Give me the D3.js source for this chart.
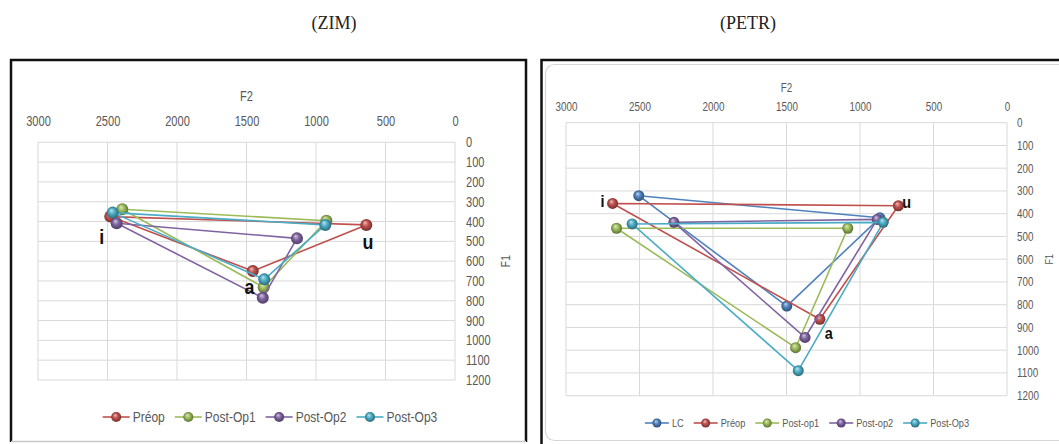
<!DOCTYPE html>
<html><head><meta charset="utf-8">
<script src="https://cdn.jsdelivr.net/npm/d3@7"></script>
<style>body{margin:0;background:#fff;overflow:hidden}</style>
</head><body><svg id="c" width="1059" height="444"></svg>
<script>
// ---------- DATA ----------
const vowels = ["i", "u", "a"];
const f2Ticks = [3000, 2500, 2000, 1500, 1000, 500, 0];
const f1Ticks = [0, 100, 200, 300, 400, 500, 600, 700, 800, 900, 1000, 1100, 1200];
const titles = ["(ZIM)", "(PETR)"];

const zimSeries = ["Préop", "Post-Op1", "Post-Op2", "Post-Op3"];
// F2 / F1 for [i, u, a]
const zimF2 = [[2480, 638, 1455], [2394, 925, 1376], [2434, 1137, 1383], [2463, 933, 1372]];
const zimF1 = [[375, 417, 650], [338, 396, 732], [409, 485, 785], [355, 417, 692]];
const zimLabelF2 = [2541, 626, 1479];
const zimLabelF1 = [477, 502, 730];

const petrSeries = ["LC", "Préop", "Post-op1", "Post-op2", "Post-Op3"];
const petrF2 = [[2505, 865, 1498], [2683, 739, 1273], [2656, 1083, 1438], [2266, 883, 1374], [2550, 842, 1420]];
const petrF1 = [[321, 418, 806], [355, 365, 864], [464, 464, 989], [438, 425, 944], [445, 438, 1090]];
const petrLabelF2 = [2752, 682, 1212];
const petrLabelF1 = [343, 347, 923];

// ---------- STYLE ----------
const COL = {blue: "#4f81bd", red: "#c0504d", green: "#9bbb59", purple: "#8064a2", cyan: "#4bacc6"};
const zimColors = [COL.red, COL.green, COL.purple, COL.cyan];
const petrColors = [COL.blue, COL.red, COL.green, COL.purple, COL.cyan];
const FONT = "'Liberation Sans',Arial,sans-serif";

const svg = d3.select("#c");
svg.append("rect").attr("width", 1059).attr("height", 444).attr("fill", "#fff");

// gradients for 3D-looking markers
const defs = svg.append("defs");
Object.entries(COL).forEach(([k, c]) => {
  const g = defs.append("radialGradient").attr("id", "g-" + k)
    .attr("cx", "50%").attr("cy", "50%").attr("r", "55%").attr("fx", "38%").attr("fy", "30%");
  g.append("stop").attr("offset", "0%").attr("stop-color", d3.interpolateRgb(c, "#fff")(0.65));
  g.append("stop").attr("offset", "45%").attr("stop-color", c);
  g.append("stop").attr("offset", "100%").attr("stop-color", d3.interpolateRgb(c, "#000")(0.45));
});
const gradId = c => "url(#g-" + Object.keys(COL).find(k => COL[k] === c) + ")";

// panel frames
svg.append("path").attr("d", "M11,442 L11,60 L526,60 L526,442").attr("fill", "none")
  .attr("stroke", "#111").attr("stroke-width", 2.5);
svg.append("line").attr("x1", 11).attr("x2", 526).attr("y1", 441.5).attr("y2", 441.5)
  .attr("stroke", "#c8c8c8").attr("stroke-width", 1.5);
svg.append("path").attr("d", "M541.5,444 L541.5,60 L1059,60").attr("fill", "none")
  .attr("stroke", "#111").attr("stroke-width", 2.5);
svg.append("rect").attr("x", 545.5).attr("y", 64.5).attr("width", 530).attr("height", 376)
  .attr("rx", 9).attr("fill", "none").attr("stroke", "#d6d6d6").attr("stroke-width", 1.2);

// titles
svg.selectAll("text.title").data(titles).join("text").attr("class", "title")
  .attr("x", (d, i) => i === 0 ? 334 : 748).attr("y", 23)
  .attr("text-anchor", "middle").attr("dominant-baseline", "central")
  .attr("font-family", "'Liberation Serif','DejaVu Serif',serif").attr("font-size", 18)
  .attr("fill", "#222").text(d => d);

function drawPanel(cfg) {
  const x = d3.scaleLinear().domain([3000, 0]).range([cfg.x0, cfg.x1]);
  const y = d3.scaleLinear().domain([0, 1200]).range([cfg.y0, cfg.y1]);
  const g = svg.append("g");
  const sx = cfg.sx;

  // grid
  g.append("g").selectAll("line").data(f1Ticks).join("line")
    .attr("x1", cfg.x0).attr("x2", cfg.x1).attr("y1", d => y(d)).attr("y2", d => y(d))
    .attr("stroke", "#d9d9d9").attr("stroke-width", 1);
  g.append("g").selectAll("line").data(f2Ticks).join("line")
    .attr("y1", cfg.y0).attr("y2", cfg.y1).attr("x1", d => x(d)).attr("x2", d => x(d))
    .attr("stroke", "#d9d9d9").attr("stroke-width", 1);

  // top axis (F2)
  const top = g.append("g").attr("transform", `translate(0,${cfg.topLabelY})`)
    .call(d3.axisTop(x).tickValues(f2Ticks).tickFormat(d3.format("d")).tickSize(0).tickPadding(0));
  top.select(".domain").remove();
  top.selectAll("text").attr("font-family", FONT).attr("font-size", cfg.tickSize)
    .attr("fill", "#595959").attr("dy", "0.35em").attr("transform", `scale(${sx},1)`);
  g.append("text").attr("transform", `translate(${(cfg.x0 + cfg.x1) / 2},${cfg.f2TitleY}) scale(${sx},1)`)
    .attr("text-anchor", "middle").attr("dominant-baseline", "central")
    .attr("font-family", FONT).attr("font-size", cfg.tickSize).attr("fill", "#595959").text("F2");

  // right axis (F1)
  const right = g.append("g").attr("transform", `translate(${cfg.rightLabelX},0)`)
    .call(d3.axisRight(y).tickValues(f1Ticks).tickFormat(d3.format("d")).tickSize(0).tickPadding(0));
  right.select(".domain").remove();
  right.selectAll("text").attr("font-family", FONT).attr("font-size", cfg.tickSize)
    .attr("fill", "#595959").attr("transform", `scale(${sx},1)`);
  g.append("text").attr("transform", `translate(${cfg.f1TitleX},${(cfg.y0 + cfg.y1) / 2}) rotate(-90) scale(${sx},1)`)
    .attr("text-anchor", "middle").attr("dominant-baseline", "central")
    .attr("font-family", FONT).attr("font-size", cfg.tickSize - 1).attr("fill", "#595959").text("F1");

  // series
  const line = d3.line().x(d => x(d[0])).y(d => y(d[1]));
  cfg.names.forEach((name, s) => {
    const pts = cfg.f2[s].map((v, k) => [v, cfg.f1[s][k]]);
    const gs = g.append("g");
    gs.append("path").attr("d", line(pts.concat([pts[0]]))).attr("fill", "none")
      .attr("stroke", cfg.colors[s]).attr("stroke-width", 1.6).attr("stroke-linejoin", "round");
    gs.selectAll("circle").data(pts).join("circle")
      .attr("cx", d => x(d[0])).attr("cy", d => y(d[1])).attr("r", cfg.r)
      .attr("fill", gradId(cfg.colors[s]));
  });

  // vowel labels
  g.selectAll("text.vowel").data(vowels).join("text").attr("class", "vowel")
    .attr("transform", (d, k) => `translate(${x(cfg.labF2[k])},${y(cfg.labF1[k])}) scale(0.85,1)`)
    .attr("text-anchor", "middle").attr("dominant-baseline", "central")
    .attr("font-family", FONT).attr("font-weight", "bold")
    .attr("font-size", cfg.vowelSize).attr("fill", "#111").text(d => d);

  // legend
  const lg = g.append("g").attr("transform", `translate(0,${cfg.legendY})`);
  let cx = 0;
  const items = [];
  cfg.names.forEach((name, s) => {
    const it = lg.append("g");
    it.append("line").attr("x1", 0).attr("x2", cfg.legLine).attr("stroke", cfg.colors[s]).attr("stroke-width", 1.6);
    it.append("circle").attr("cx", cfg.legLine / 2).attr("r", cfg.r - 1).attr("fill", gradId(cfg.colors[s]));
    const t = it.append("text").attr("transform", `translate(${cfg.legLine + 3},0) scale(${cfg.legSx},1)`)
      .attr("dominant-baseline", "central")
      .attr("font-family", FONT).attr("font-size", cfg.legSize).attr("fill", "#595959").text(name);
    const w = cfg.legLine + 3 + t.node().getComputedTextLength() * cfg.legSx;
    items.push({it, off: cx});
    cx += w + cfg.legGap;
  });
  const total = cx - cfg.legGap;
  const start = cfg.legCenter - total / 2;
  items.forEach(o => o.it.attr("transform", `translate(${start + o.off},0)`));
}

drawPanel({
  x0: 38, x1: 455, y0: 142.3, y1: 380, topLabelY: 121, f2TitleY: 97,
  rightLabelX: 466, f1TitleX: 505, tickSize: 14, sx: 0.79, r: 6, vowelSize: 21,
  names: zimSeries, colors: zimColors, f2: zimF2, f1: zimF1, labF2: zimLabelF2, labF1: zimLabelF1,
  legendY: 417, legCenter: 270, legLine: 27, legSize: 14, legSx: 0.86, legGap: 10
});
drawPanel({
  x0: 566, x1: 1007, y0: 122.7, y1: 395.7, topLabelY: 106.5, f2TitleY: 88,
  rightLabelX: 1017, f1TitleX: 1049, tickSize: 12, sx: 0.82, r: 5.5, vowelSize: 17,
  names: petrSeries, colors: petrColors, f2: petrF2, f1: petrF1, labF2: petrLabelF2, labF1: petrLabelF1,
  legendY: 423, legCenter: 807, legLine: 24, legSize: 11, legSx: 0.84, legGap: 10
});
</script></body></html>
